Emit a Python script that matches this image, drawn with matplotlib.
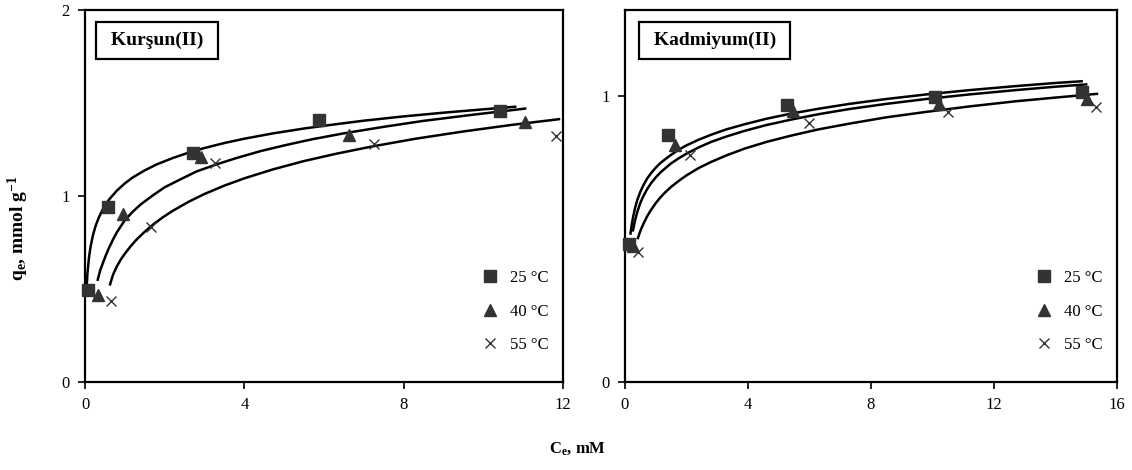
import matplotlib
matplotlib.use("Agg")
import matplotlib.pyplot as plt

plt.rcParams["font.family"] = ["Liberation Serif", "DejaVu Serif"]
plt.rcParams["mathtext.fontset"] = "custom"
plt.rcParams["mathtext.rm"] = "Liberation Serif:bold"
plt.rcParams["mathtext.it"] = "Liberation Serif:bold"
plt.rcParams["mathtext.bf"] = "Liberation Serif:bold"

TEMPS = ["25 °C", "40 °C", "55 °C"]
MARKERS = ["s", "^", "x"]

# Kursun(II) - measured points
pb_x25 = [0.07, 0.58, 2.72, 5.87, 10.42]
pb_y25 = [0.495, 0.94, 1.23, 1.41, 1.456]
pb_x40 = [0.33, 0.96, 2.91, 6.64, 11.04]
pb_y40 = [0.47, 0.905, 1.21, 1.33, 1.40]
pb_x55 = [0.65, 1.66, 3.26, 7.25, 11.83]
pb_y55 = [0.435, 0.835, 1.175, 1.28, 1.32]

# Kursun(II) - fitted curves
pb_cx25 = [0.04, 0.06, 0.1, 0.14, 0.2, 0.27, 0.35, 0.45, 0.6, 0.8, 1.0, 1.2, 1.5, 1.8,
           2.2, 2.6, 3.0, 3.5, 4.0, 4.7, 5.5, 6.3, 7.0, 8.0, 9.0, 10.0, 10.8]
pb_cy25 = [0.505, 0.581, 0.67, 0.728, 0.79, 0.842, 0.886, 0.93, 0.98, 1.029, 1.068, 1.10,
           1.138, 1.17, 1.204, 1.233, 1.258, 1.285, 1.308, 1.336, 1.363, 1.386, 1.405,
           1.428, 1.448, 1.466, 1.48]
pb_cx40 = [0.32, 0.38, 0.45, 0.52, 0.6, 0.7, 0.8, 1.0, 1.2, 1.4, 1.7, 2.0, 2.4, 2.8, 3.3,
           3.8, 4.4, 5.0, 5.7, 6.5, 7.5, 8.5, 9.7, 11.05]
pb_cy40 = [0.55, 0.60, 0.64, 0.68, 0.72, 0.765, 0.805, 0.87, 0.916, 0.955, 1.003, 1.047,
           1.09, 1.132, 1.17, 1.204, 1.241, 1.272, 1.305, 1.337, 1.372, 1.404, 1.436, 1.47]
pb_cx55 = [0.63, 0.7, 0.8, 0.9, 1.0, 1.15, 1.3, 1.5, 1.7, 1.95, 2.2, 2.6, 3.0, 3.5, 4.0,
           4.7, 5.5, 6.3, 7.2, 8.3, 9.5, 10.7, 11.9]
pb_cy55 = [0.525, 0.575, 0.622, 0.659, 0.69, 0.731, 0.767, 0.808, 0.845, 0.885, 0.92, 0.969,
           1.011, 1.056, 1.095, 1.142, 1.188, 1.227, 1.266, 1.308, 1.347, 1.382, 1.413]

# Kadmiyum(II) - measured points
cd_x25 = [0.14, 1.39, 5.27, 10.07, 14.85]
cd_y25 = [0.483, 0.862, 0.968, 0.997, 1.013]
cd_x40 = [0.25, 1.64, 5.47, 10.22, 15.02]
cd_y40 = [0.475, 0.83, 0.946, 0.97, 0.99]
cd_x55 = [0.43, 2.13, 5.97, 10.49, 15.33]
cd_y55 = [0.456, 0.795, 0.905, 0.945, 0.96]

# Kadmiyum(II) - fitted curves
cd_cx25 = [0.18, 0.22, 0.27, 0.33, 0.4, 0.5, 0.6, 0.72, 0.85, 1.0, 1.15, 1.3, 1.5, 1.75,
           2.0, 2.4, 2.8, 3.3, 3.9, 4.6, 5.4, 6.3, 7.3, 8.5, 9.8, 11.2, 12.7, 14.0, 14.85]
cd_cy25 = [0.519, 0.55, 0.58, 0.609, 0.636, 0.665, 0.688, 0.711, 0.73, 0.749, 0.765, 0.778,
           0.794, 0.812, 0.827, 0.847, 0.864, 0.883, 0.901, 0.92, 0.938, 0.955, 0.972,
           0.989, 1.005, 1.02, 1.034, 1.045, 1.051]
cd_cx40 = [0.26, 0.32, 0.4, 0.5, 0.6, 0.72, 0.85, 1.0, 1.15, 1.3, 1.5, 1.75, 2.0, 2.4,
           2.8, 3.3, 3.9, 4.6, 5.4, 6.3, 7.3, 8.5, 9.8, 11.2, 12.7, 14.0, 15.0]
cd_cy40 = [0.53, 0.561, 0.594, 0.626, 0.65, 0.674, 0.695, 0.715, 0.732, 0.746, 0.764,
           0.782, 0.798, 0.82, 0.839, 0.858, 0.878, 0.898, 0.917, 0.936, 0.954, 0.972,
           0.989, 1.005, 1.02, 1.032, 1.04]
cd_cx55 = [0.42, 0.5, 0.6, 0.72, 0.85, 1.0, 1.15, 1.3, 1.5, 1.75, 2.0, 2.4, 2.8, 3.3, 3.9,
           4.6, 5.4, 6.3, 7.3, 8.5, 9.8, 11.2, 12.7, 14.0, 15.35]
cd_cy55 = [0.503, 0.528, 0.553, 0.579, 0.602, 0.625, 0.645, 0.662, 0.682, 0.703, 0.722,
           0.748, 0.769, 0.792, 0.816, 0.839, 0.861, 0.883, 0.903, 0.925, 0.944, 0.963,
           0.981, 0.994, 1.007]

PANELS = [
    dict(name=" Kurşun(II) ", xlim=(0, 12), ylim=(0, 2), yticks=[0, 1, 2], box_x=0.043,
         pts=[(pb_x25, pb_y25), (pb_x40, pb_y40), (pb_x55, pb_y55)],
         fits=[(pb_cx25, pb_cy25), (pb_cx40, pb_cy40), (pb_cx55, pb_cy55)]),
    dict(name=" Kadmiyum(II) ", xlim=(0, 16), ylim=(0, 1.3), yticks=[0, 1], box_x=0.048,
         pts=[(cd_x25, cd_y25), (cd_x40, cd_y40), (cd_x55, cd_y55)],
         fits=[(cd_cx25, cd_cy25), (cd_cx40, cd_cy40), (cd_cx55, cd_cy55)]),
]

fig = plt.figure(figsize=(11.32, 4.70), dpi=100)
ax_l = fig.add_axes([0.0751, 0.1872, 0.4222, 0.7915])
ax_r = fig.add_axes([0.5521, 0.1872, 0.4346, 0.7915])

for ax, p in zip([ax_l, ax_r], PANELS):
    for cx, cy in p["fits"]:
        ax.plot(cx, cy, color="black", lw=1.8, zorder=2)
    for (x, y), m, lab in zip(p["pts"], MARKERS, TEMPS):
        if m == "x":
            ax.plot(x, y, ls="none", marker="x", ms=7.5, mew=1.0, color="#333333",
                    label=lab, zorder=3, clip_on=False)
        else:
            ax.plot(x, y, ls="none", marker=m, ms=8.5, color="#333333",
                    label=lab, zorder=3, clip_on=False)
    ax.set_xlim(*p["xlim"])
    ax.set_ylim(*p["ylim"])
    ax.set_xticks(range(0, p["xlim"][1] + 1, 4))
    ax.set_yticks(p["yticks"])
    ax.tick_params(direction="out", length=5, width=1.2, labelsize=12, pad=6)
    for sp in ax.spines.values():
        sp.set_linewidth(1.6)
    ax.text(p["box_x"], 0.919, p["name"], transform=ax.transAxes, fontsize=14,
            fontweight="bold", ha="left", va="center",
            bbox=dict(boxstyle="square,pad=0.5", fc="white", ec="black", lw=1.6))
    ax.legend(loc="lower right", bbox_to_anchor=(0.985, 0.06), frameon=False,
              fontsize=12, handlelength=1.0, handletextpad=0.7, labelspacing=1.05,
              borderaxespad=0)

fig.text(0.016, 0.515, "q$_e$, mmol g$^{-1}$", rotation=90, ha="center", va="center",
         fontsize=14, fontweight="bold")
fig.text(0.51, 0.045, "C$_e$, mM", ha="center", va="center", fontsize=12, fontweight="bold")

fig.savefig("out.png", dpi=100)
